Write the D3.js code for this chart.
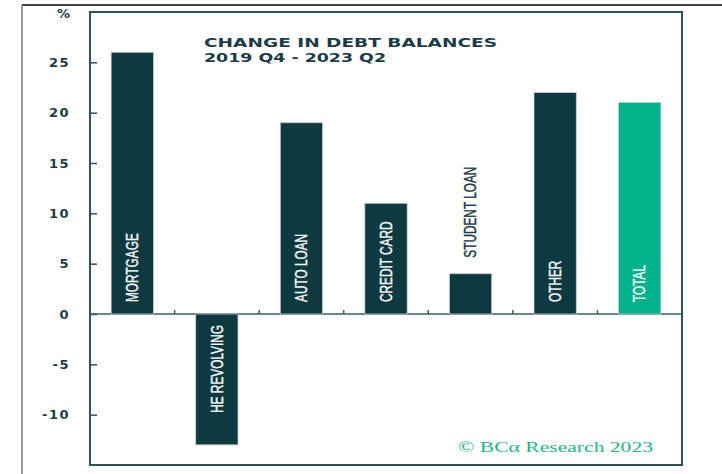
<!DOCTYPE html>
<html>
<head>
<meta charset="utf-8">
<script src="https://cdn.jsdelivr.net/npm/d3@7"></script>
<style>
  html, body { margin: 0; padding: 0; background: #fff; }
  svg { display: block; }
</style>
</head>
<body>
<div id="chart"></div>
<script>
// data
const categories = ['MORTGAGE', 'HE REVOLVING', 'AUTO LOAN', 'CREDIT CARD', 'STUDENT LOAN', 'OTHER', 'TOTAL'];
const values = [26, -13, 19, 11, 4, 22, 21];
const yTicks = [-10, -5, 0, 5, 10, 15, 20, 25];
const titleLines = ['CHANGE IN DEBT BALANCES', '2019 Q4 - 2023 Q2'];

const width = 722, height = 474;
const margin = { top: 12, right: 40, bottom: 9, left: 90 };

const dark = '#0f3940';
const green = '#00b38a';
const textDark = '#1c3b47';
const frameCol = '#2c525a';

const svg = d3.select('#chart').append('svg')
  .attr('width', width)
  .attr('height', height);

// outer page borders
svg.append('line')
  .attr('x1', 22).attr('x2', width).attr('y1', 5).attr('y2', 5)
  .attr('stroke', '#000').attr('stroke-width', 1.5);
svg.append('line')
  .attr('x1', 22).attr('x2', 22).attr('y1', 5).attr('y2', height)
  .attr('stroke', '#777').attr('stroke-width', 1.5);

const x = d3.scaleBand()
  .domain(categories)
  .range([margin.left, width - margin.right])
  .paddingInner(0.5)
  .paddingOuter(0.25);

const y = d3.scaleLinear()
  .domain([-15, 30])
  .range([height - margin.bottom, margin.top]);

// plot frame
svg.append('rect')
  .attr('x', margin.left)
  .attr('y', margin.top)
  .attr('width', width - margin.right - margin.left)
  .attr('height', height - margin.bottom - margin.top)
  .attr('fill', 'none')
  .attr('stroke', frameCol)
  .attr('stroke-width', 2);

// y axis, ticks point inward
const yAxis = svg.append('g')
  .attr('transform', `translate(${margin.left},0)`)
  .call(d3.axisRight(y).tickValues(yTicks).tickSize(7).tickFormat(d => d));
yAxis.select('.domain').remove();
yAxis.selectAll('.tick line').attr('stroke', frameCol).attr('stroke-width', 1.5);
yAxis.selectAll('.tick text')
  .attr('x', -20)
  .attr('text-anchor', 'end')
  .attr('fill', textDark)
  .style('font-family', '"DejaVu Sans", sans-serif')
  .style('font-weight', 'bold')
  .style('font-size', '13px')
  .style('letter-spacing', '1.5px');

svg.append('text')
  .attr('x', 70)
  .attr('y', y(30) + 6)
  .attr('text-anchor', 'end')
  .attr('fill', textDark)
  .style('font-family', '"DejaVu Sans", sans-serif')
  .style('font-weight', 'bold')
  .style('font-size', '13px')
  .text('%');

// zero line with small ticks at band boundaries
svg.append('line')
  .attr('x1', margin.left).attr('x2', width - margin.right)
  .attr('y1', y(0)).attr('y2', y(0))
  .attr('stroke', '#3a5f68').attr('stroke-width', 1.5);

const step = x.step();
svg.append('g')
  .selectAll('line')
  .data(categories.slice(1))
  .join('line')
  .attr('x1', d => x(d) - step * 0.25)
  .attr('x2', d => x(d) - step * 0.25)
  .attr('y1', y(0))
  .attr('y2', y(0) - 4)
  .attr('stroke', '#3a5f68')
  .attr('stroke-width', 1.5);

// bars
svg.append('g')
  .selectAll('rect')
  .data(categories)
  .join('rect')
  .attr('x', d => x(d))
  .attr('width', x.bandwidth())
  .attr('y', (d, i) => y(Math.max(0, values[i])))
  .attr('height', (d, i) => Math.abs(y(values[i]) - y(0)))
  .attr('fill', d => d === 'TOTAL' ? green : dark)
  .attr('stroke', '#c3cccc')
  .attr('stroke-width', 0.8);

// rotated bar labels, squeezed to look like a condensed face
const squeeze = 0.74;
const labels = svg.append('g')
  .selectAll('text')
  .data(categories)
  .join('text')
  .attr('fill', '#f2f6f6')
  .attr('stroke', '#f2f6f6')
  .attr('stroke-width', 0.45)
  .attr('dy', '0.36em')
  .style('font-family', '"Liberation Sans", Arial, sans-serif')
  .style('font-size', '16px')
  .text(d => d);

labels.each(function(d, i) {
  const t = d3.select(this);
  const len = this.getComputedTextLength() * squeeze;
  const cx = x(d) + x.bandwidth() / 2;
  const v = values[i];
  const barH = Math.abs(y(v) - y(0));
  let py, anchor = 'start';
  if (v < 0) {
    py = y(0) + 11;
    anchor = 'end';
  } else if (len + 24 > barH) {
    // too short, put it above the bar
    py = y(v) - 16;
    t.attr('fill', textDark).attr('stroke', textDark);
  } else {
    py = y(0) - 12;
  }
  t.attr('text-anchor', anchor)
    .attr('transform', `translate(${cx},${py}) rotate(-90) scale(${squeeze},1)`);
});

// title
svg.append('g')
  .selectAll('text')
  .data(titleLines)
  .join('text')
  .attr('x', 204)
  .attr('y', (d, i) => 47 + i * 15)
  .attr('fill', textDark)
  .attr('textLength', (d, i) => i === 0 ? 293 : 182)
  .attr('lengthAdjust', 'spacingAndGlyphs')
  .style('font-family', '"DejaVu Sans", sans-serif')
  .style('font-weight', 'bold')
  .style('font-size', '13px')
  .text(d => d);

// source
svg.append('text')
  .attr('x', 458)
  .attr('y', 452)
  .attr('fill', '#1fb58d')
  .attr('textLength', 195)
  .attr('lengthAdjust', 'spacingAndGlyphs')
  .style('font-family', '"Liberation Serif", "DejaVu Serif", serif')
  .style('font-size', '15px')
  .text('\u00A9 BC\u03B1 Research 2023');
</script>
</body>
</html>
